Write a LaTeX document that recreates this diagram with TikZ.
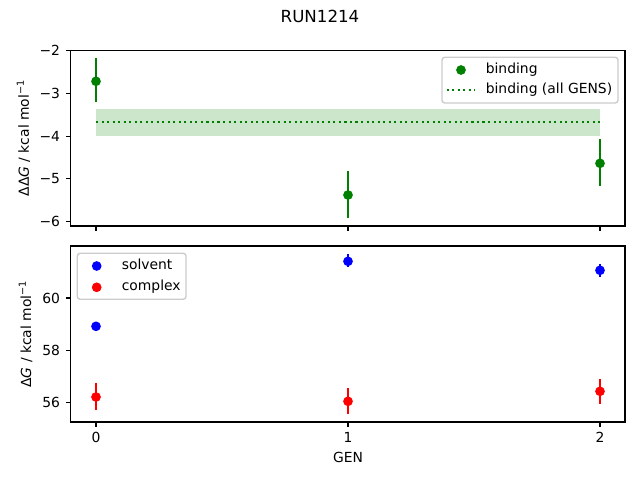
\documentclass[tikz,border=0pt]{standalone}
\usepackage{fontspec}
\setmainfont{DejaVu Sans}
\definecolor{mgreen}{HTML}{008000}
\definecolor{mblue}{HTML}{0000FF}
\definecolor{mred}{HTML}{FF0000}
\definecolor{lgframe}{HTML}{CCCCCC}
\begin{document}
\begin{tikzpicture}[x=0.72pt,y=-0.72pt,
  spine/.style={line width=0.8pt,black},
  tickmark/.style={line width=0.8pt,black},
  ebar/.style={line width=1.5pt},
  dotmark/.style={circle,inner sep=0pt,minimum size=7pt},
  lab/.style={font=\fontsize{10}{12}\selectfont,inner sep=0pt},
  legbox/.style={draw=lgframe,fill=white,fill opacity=0.8,draw opacity=1,rounded corners=2pt,line width=1pt},
  dotline/.style={line width=1.5pt,dash pattern=on 1.5pt off 2.475pt}]
\useasboundingbox (0,0) rectangle (640,480);
% title
\node[font=\fontsize{12}{14}\selectfont,inner sep=0pt,anchor=base] (title) at (320,22) {RUN1214};

% ===== top axes =====
\fill[mgreen,opacity=0.2] (96,109) rectangle (600,135.7);
\coordinate (avgL) at (96,121.7);
\coordinate (avgR) at (600,121.7);
\draw[dotline,mgreen] (avgL) -- (avgR);
% error bars
\draw[ebar,mgreen] (96,58.3) -- (96,102.3);
\draw[ebar,mgreen] (348,171) -- (348,217.7);
\draw[ebar,mgreen] (600,139) -- (600,185.7);
\node[dotmark,fill=mgreen] (b0) at (96,81.3) {};
\node[dotmark,fill=mgreen] (b1) at (348,195) {};
\node[dotmark,fill=mgreen] (b2) at (600,163.3) {};
% spines
\draw[spine] (70.5,50.3) rectangle (625,226);
% y ticks
\foreach \v/\y in {2/50.7,3/93.3,4/136.3,5/178.7,6/221.7}{
  \draw[tickmark] (70.5,\y) -- ++(-4.86,0);
  \node[lab,anchor=east] at (60.3,\y) {−\v};
}
% x ticks (no labels)
\foreach \x in {96,348,600}{
  \draw[tickmark] (\x,226) -- ++(0,4.86);
}
\node[lab,rotate=90,anchor=base] (ylabtop) at (29,138) {ΔΔ\textit{G} / kcal mol\textsuperscript{−1}};
% legend
\draw[legbox] (442,57.3) rectangle (618,103);
\node[dotmark,fill=mgreen] (lgb) at (461,70) {};
\coordinate (lgdL) at (446.7,90);
\coordinate (lgdR) at (475,90);
\draw[dotline,mgreen] (lgdL) -- (lgdR);
\node[lab,anchor=base west] (lgt1) at (485.5,73.9) {binding};
\node[lab,anchor=base west] (lgt2) at (485.5,93.9) {binding (all GENS)};

% ===== bottom axes =====
\draw[ebar,mblue] (348,254) -- (348,266.7);
\draw[ebar,mblue] (600,264.3) -- (600,276.7);
\draw[ebar,mred] (96,382.7) -- (96,410);
\draw[ebar,mred] (348,388) -- (348,413.7);
\draw[ebar,mred] (600,379) -- (600,403.7);
\node[dotmark,fill=mblue] (s0) at (96,326.3) {};
\node[dotmark,fill=mblue] (s1) at (348,261.3) {};
\node[dotmark,fill=mblue] (s2) at (600,270.3) {};
\node[dotmark,fill=mred] (c0) at (96,397) {};
\node[dotmark,fill=mred] (c1) at (348,401.3) {};
\node[dotmark,fill=mred] (c2) at (600,391.3) {};
\draw[spine] (70.5,246) rectangle (625,422);
\foreach \v/\y in {60/298,58/350.1,56/402.3}{
  \draw[tickmark] (70.5,\y) -- ++(-4.86,0);
  \node[lab,anchor=east] at (60.3,\y) {\v};
}
\foreach \v/\x in {0/96,1/348,2/600}{
  \draw[tickmark] (\x,422) -- ++(0,4.86);
  \node[lab] at (\x,437.8) {\v};
}
\node[lab] (xlab) at (348,457.5) {GEN};
\node[lab,rotate=90,anchor=base] (ylabbot) at (31,334) {Δ\textit{G} / kcal mol\textsuperscript{−1}};
% legend
\draw[legbox] (77.3,253.3) rectangle (186,299.3);
\node[dotmark,fill=mblue] (lgs) at (96.7,266) {};
\node[dotmark,fill=mred] (lgc) at (96.7,287.3) {};
\node[lab,anchor=base west] (lgt3) at (121.5,269.9) {solvent};
\node[lab,anchor=base west] (lgt4) at (121.5,290.6) {complex};
\end{tikzpicture}
\end{document}
